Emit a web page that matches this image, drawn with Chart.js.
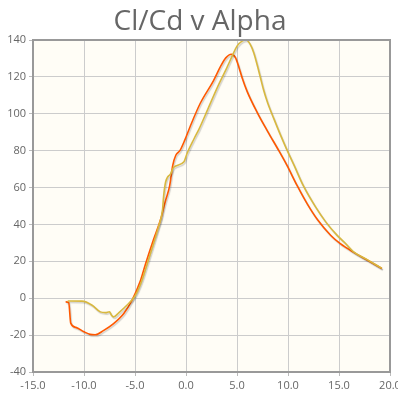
<!DOCTYPE html>
<html>
<head>
<meta charset="utf-8">
<script src="https://cdn.jsdelivr.net/npm/chart.js@4"></script>
<style>
html,body{margin:0;padding:0;background:#fff;}
#wrap{width:398px;height:400px;position:relative;}
</style>
</head>
<body>
<div id="wrap"><canvas id="c" width="398" height="400"></canvas></div>
<script>
const chartTitle = "Cl/Cd v Alpha";
const xTicks = [-15, -10, -5, 0, 5, 10, 15, 20];
const yTicks = [-40, -20, 0, 20, 40, 60, 80, 100, 120, 140];

const alphaA = [-11.8,-11.5,-11.3,-10.8,-10.0,-9.4,-8.9,-8.1,-7.1,-6.1,-5.3,-4.5,-4.0,-3.2,-2.5,-2.0,-1.6,-1.3,-1.0,-0.6,-0.1,0.4,1.4,2.7,3.4,3.9,4.45,4.85,5.2,5.5,6.0,7.0,8.0,9.1,9.9,10.9,11.9,12.9,14.2,15.1,16.4,17.8,19.2];
const clcdA  = [-2.0,-2.3,-13.5,-15.8,-18.2,-19.6,-19.8,-17.6,-13.8,-8.3,-1.2,9,18,31.5,42.5,53,61,72,77.5,80,86,93,105.7,118,125.8,130.3,132.3,130.5,125,119.5,112,100.5,90.5,80,72,61,51,42.5,34,29.7,25,20.6,16.1];

const alphaB = [-11.6,-10.2,-9.2,-8.4,-7.9,-7.5,-7.3,-7.1,-6.6,-5.8,-5.0,-4.5,-3.5,-2.7,-2.3,-2.2,-2.0,-1.5,-1.2,-0.2,0.1,0.8,1.3,2.1,3.1,4.0,4.5,5.0,5.5,5.9,6.3,6.65,7.0,7.3,7.6,8.0,8.6,9.3,9.85,10.6,11.5,12.7,13.7,14.8,15.5,16.4,17.8,19.2];
const clcdB  = [-1.5,-1.6,-3.8,-7.4,-7.8,-7.3,-9.2,-10.1,-7.9,-3.8,1.2,7,24,38.7,48,55,63,67.6,71,74,78.5,86.6,92,102,114.6,124.9,131,136.7,139.4,140,137.6,133,126,119.5,113,106,97.5,88,81,72,61,49.5,41.4,34.2,30.5,25.3,20.8,16.2];

const colorA = '#ff5800';
const colorB = '#d8b83f';

function pts(xs, ys){ return xs.map((x,i)=>({x:x, y:ys[i]})); }

const bgPlugin = {
  id:'bg',
  beforeDraw(chart){
    const {ctx, chartArea:a} = chart;
    ctx.save();
    ctx.fillStyle = '#fffdf6';
    ctx.fillRect(a.left, a.top, a.right-a.left, a.bottom-a.top);
    ctx.restore();
  },
  afterDraw(chart){
    const {ctx, chartArea:a} = chart;
    ctx.save();
    ctx.strokeStyle = '#999';
    ctx.lineWidth = 2;
    ctx.strokeRect(a.left, a.top, a.right-a.left, a.bottom-a.top);
    ctx.fillStyle = '#666';
    ctx.font = '28px "Open Sans"';
    ctx.textAlign = 'center';
    ctx.textBaseline = 'alphabetic';
    ctx.fillText(chartTitle, 200, 30);
    ctx.restore();
  },
  beforeDatasetDraw(chart){
    const ctx = chart.ctx;
    ctx.save();
    ctx.shadowColor = 'rgba(0,0,0,0.18)';
    ctx.shadowOffsetX = 1;
    ctx.shadowOffsetY = 1.5;
    ctx.shadowBlur = 1;
  },
  afterDatasetDraw(chart){
    chart.ctx.restore();
  }
};

new Chart(document.getElementById('c'), {
  type:'scatter',
  data:{
    datasets:[
      {data:pts(alphaB, clcdB), borderColor:colorB, backgroundColor:colorB, showLine:true, pointRadius:0, borderWidth:1.6, cubicInterpolationMode:'monotone'},
      {data:pts(alphaA, clcdA), borderColor:colorA, backgroundColor:colorA, showLine:true, pointRadius:0, borderWidth:1.6, cubicInterpolationMode:'monotone'}
    ]
  },
  options:{
    responsive:false,
    animation:false,
    layout:{padding:{top:40, right:8, left:0, bottom:0}},
    plugins:{legend:{display:false}, title:{display:false}, tooltip:{enabled:false}},
    scales:{
      x:{
        type:'linear', min:-15, max:20,
        afterBuildTicks(s){ s.ticks = xTicks.map(v=>({value:v})); },
        afterFit(s){ s.height = 28; s.paddingLeft = 0; s.paddingRight = 0; },
        grid:{color:'#cccccc', lineWidth:1, tickLength:4, tickColor:'#bbbbbb'},
        border:{display:false},
        ticks:{color:'#666', font:{family:'"Open Sans"', size:11}, padding:3, maxRotation:0, callback:v=>v.toFixed(1)}
      },
      y:{
        type:'linear', min:-40, max:140,
        afterBuildTicks(s){ s.ticks = yTicks.map(v=>({value:v})); },
        afterFit(s){ s.width = 33; s.paddingTop = 0; s.paddingBottom = 0; },
        grid:{color:'#cccccc', lineWidth:1, tickLength:4, tickColor:'#bbbbbb'},
        border:{display:false},
        ticks:{color:'#666', font:{family:'"Open Sans"', size:11}, padding:3}
      }
    }
  },
  plugins:[bgPlugin]
});
</script>
</body>
</html>
